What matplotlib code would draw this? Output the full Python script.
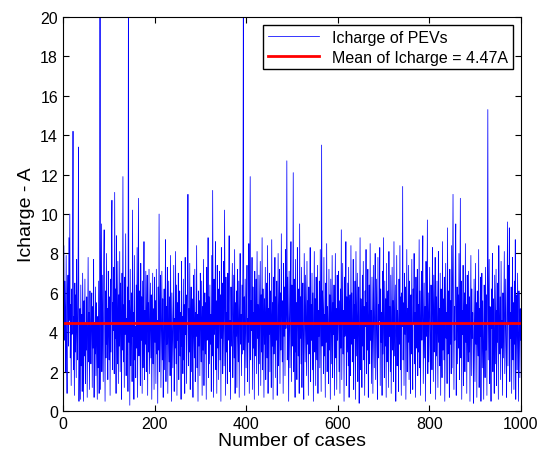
import numpy as np
import matplotlib
matplotlib.use('Agg')
import matplotlib.pyplot as plt

matplotlib.rcParams['font.family'] = ['Liberation Sans', 'DejaVu Sans']

# Icharge per case (cases 1..1000)
icharge_001_200 = [
    4.2, 8.4, 3.6, 6.6, 5.1, 2.0, 7.9, 3.4, 0.9, 5.7, 6.9, 3.3, 8.8, 4.6, 10.0, 2.7, 5.4, 1.3, 6.2, 3.9,
    7.4, 14.2, 2.1, 4.8, 0.8, 6.5, 3.0, 5.9, 1.7, 7.7, 4.1, 2.6, 6.8, 13.4, 0.5, 3.8, 5.2, 0.6, 6.4, 2.3,
    4.9, 1.0, 7.0, 3.5, 0.5, 5.6, 2.8, 6.7, 1.4, 4.4, 3.1, 5.8, 0.7, 4.0, 7.8, 2.5, 5.0, 1.1, 6.1, 3.7,
    2.4, 4.7, 6.0, 1.2, 5.3, 3.2, 7.7, 0.7, 4.5, 2.9, 6.3, 1.8, 5.5, 3.6, 0.6, 4.8, 2.2, 6.6, 0.9, 3.3,
    24.0, 1.1, 5.7, 9.5, 2.0, 6.9, 3.9, 1.5, 7.4, 9.2, 4.3, 0.5, 6.1, 2.7, 8.0, 3.4, 5.2, 1.6, 7.1, 4.0,
    2.6, 5.8, 0.8, 6.7, 3.0, 8.4, 10.7, 2.1, 5.5, 4.1, 7.3, 1.9, 11.1, 3.7, 6.2, 0.9, 8.9, 4.6, 2.4, 7.6,
    1.4, 5.9, 3.3, 8.1, 2.0, 6.5, 4.4, 0.6, 7.0, 3.1, 11.9, 2.5, 5.4, 1.2, 6.8, 3.9, 9.0, 1.8, 4.7, 2.9,
    6.3, 1.0, 22.0, 3.5, 5.6, 0.3, 7.2, 2.3, 4.9, 6.0, 1.5, 10.2, 3.8, 5.0, 0.6, 7.9, 2.6, 4.3, 1.7, 6.4,
    3.2, 8.3, 0.7, 5.3, 10.8, 2.8, 6.1, 4.0, 1.3, 7.5, 3.6, 5.8, 0.9, 6.6, 2.2, 4.5, 8.6, 1.6, 5.1, 3.4,
    7.1, 2.0, 4.8, 6.9, 0.8, 5.5, 3.0, 7.2, 1.9, 4.2, 6.5, 2.7, 5.9, 0.6, 3.8, 7.0, 2.4, 5.2, 1.1, 6.8,
]
icharge_201_400 = [
    3.5, 5.6, 1.4, 7.2, 2.9, 4.6, 0.4, 6.3, 3.1, 10.0, 2.0, 5.0, 6.9, 1.2, 4.4, 7.1, 2.6, 5.7, 0.7, 3.9,
    6.2, 2.1, 4.9, 8.7, 1.5, 5.3, 3.4, 7.3, 0.9, 4.1, 6.6, 2.5, 5.8, 1.8, 7.9, 3.7, 0.5, 6.0, 4.3, 2.2,
    5.1, 7.4, 1.0, 4.7, 3.2, 8.1, 2.4, 6.4, 0.8, 5.5, 3.6, 7.0, 1.6, 4.5, 6.1, 2.8, 5.0, 0.6, 7.6, 3.3,
    4.8, 1.9, 6.7, 2.6, 5.4, 0.9, 7.8, 3.9, 5.9, 1.4, 4.2, 6.5, 11.0, 2.3, 5.2, 3.0, 7.5, 1.1, 4.6, 6.3,
    2.0, 5.7, 3.5, 0.7, 6.9, 4.0, 2.7, 7.2, 1.5, 5.0, 3.8, 8.4, 2.2, 4.9, 0.5, 6.1, 3.3, 5.6, 1.8, 7.0,
    4.4, 2.5, 6.6, 0.8, 5.3, 3.1, 7.7, 1.3, 4.7, 6.0, 2.9, 5.5, 0.6, 7.3, 3.6, 4.1, 8.8, 1.7, 5.8, 2.4,
    6.4, 3.4, 4.9, 1.0, 7.9, 2.8, 11.2, 5.1, 0.7, 6.7, 3.9, 4.5, 8.6, 2.1, 5.6, 0.9, 7.4, 3.2, 6.2, 1.6,
    4.8, 7.1, 2.6, 5.9, 0.5, 8.3, 3.7, 6.5, 1.9, 4.3, 7.6, 2.3, 10.2, 5.4, 0.8, 6.8, 3.0, 5.0, 1.4, 7.0,
    3.6, 5.7, 8.9, 2.0, 4.6, 0.6, 6.3, 3.3, 5.2, 7.5, 1.7, 4.0, 6.9, 2.7, 8.2, 0.9, 5.5, 3.8, 6.1, 1.2,
    7.2, 4.2, 2.5, 6.6, 0.7, 5.1, 8.0, 3.4, 4.9, 1.8, 6.4, 2.9, 7.7, 21.0, 3.1, 5.8, 0.8, 6.7, 4.4, 2.2,
]
icharge_401_600 = [
    5.3, 7.4, 1.5, 4.7, 3.5, 8.5, 0.9, 6.0, 11.9, 2.6, 5.6, 4.1, 7.8, 1.1, 6.3, 3.2, 5.0, 0.6, 7.1, 2.8,
    4.5, 6.7, 1.9, 8.1, 3.7, 5.4, 0.8, 6.9, 2.4, 4.8, 7.6, 1.3, 5.9, 3.0, 8.8, 2.1, 6.2, 4.3, 0.7, 5.7,
    3.4, 7.3, 1.6, 4.9, 6.5, 2.7, 8.4, 0.9, 5.2, 3.9, 7.0, 2.0, 6.1, 4.6, 1.2, 8.7, 3.3, 5.5, 0.6, 6.8,
    2.9, 4.4, 7.8, 1.7, 5.8, 3.6, 6.6, 0.8, 4.0, 8.0, 2.3, 5.1, 7.2, 1.4, 6.0, 3.1, 9.0, 4.7, 2.5, 5.6,
    0.9, 7.5, 3.8, 6.3, 1.8, 8.2, 4.2, 5.3, 12.7, 2.6, 6.8, 3.5, 0.5, 7.1, 4.9, 2.2, 5.9, 8.6, 1.5, 6.4,
    3.3, 5.0, 12.1, 2.0, 6.7, 4.1, 0.7, 7.7, 3.0, 5.5, 1.6, 8.3, 4.5, 2.8, 6.2, 0.9, 9.5, 3.7, 5.8, 2.4,
    7.3, 1.2, 4.8, 6.5, 3.1, 0.6, 8.0, 5.2, 2.5, 6.9, 4.0, 1.8, 7.6, 3.4, 5.6, 0.8, 6.3, 2.9, 4.6, 8.3,
    1.5, 5.4, 3.6, 7.0, 2.1, 6.0, 0.5, 4.4, 8.1, 3.0, 5.7, 1.3, 6.8, 4.2, 2.6, 7.4, 0.9, 5.1, 3.8, 6.6,
    2.2, 8.2, 4.7, 1.0, 13.5, 3.3, 6.1, 5.0, 1.9, 7.8, 2.8, 4.9, 0.7, 6.5, 3.5, 8.5, 2.0, 5.3, 4.1, 1.4,
    7.2, 3.1, 5.9, 0.6, 6.7, 4.5, 2.4, 7.9, 1.7, 5.5, 3.9, 6.4, 0.8, 4.3, 8.0, 2.7, 5.2, 1.1, 6.9, 3.6,
]
icharge_601_800 = [
    4.8, 7.1, 2.0, 5.6, 0.9, 6.2, 3.2, 9.2, 1.6, 4.6, 7.5, 2.9, 5.1, 0.5, 6.8, 3.8, 4.4, 8.6, 1.3, 5.8,
    3.0, 6.5, 2.3, 7.3, 0.7, 4.9, 5.9, 1.8, 8.4, 3.4, 6.0, 2.5, 4.2, 7.7, 1.1, 5.4, 3.7, 6.6, 0.6, 8.1,
    2.8, 5.0, 7.0, 1.5, 4.7, 6.3, 0.4, 3.9, 8.8, 2.1, 5.7, 4.0, 1.2, 6.9, 3.3, 7.6, 2.6, 5.3, 0.8, 6.1,
    4.3, 8.2, 1.9, 5.5, 3.1, 7.2, 0.7, 4.8, 6.4, 2.4, 8.5, 3.6, 5.1, 1.4, 6.8, 3.9, 0.9, 7.4, 4.5, 2.2,
    5.9, 8.0, 1.6, 4.1, 6.7, 3.0, 0.6, 7.8, 2.7, 5.4, 4.6, 8.3, 1.3, 6.2, 3.5, 5.0, 0.8, 7.1, 2.9, 8.8,
    4.0, 1.7, 6.6, 3.3, 5.7, 0.7, 7.5, 2.5, 4.9, 6.1, 1.2, 8.1, 3.8, 5.3, 2.0, 6.9, 0.9, 4.4, 7.3, 3.1,
    5.6, 1.5, 8.6, 2.8, 4.7, 6.4, 0.5, 3.6, 7.9, 2.3, 5.1, 4.2, 1.0, 6.7, 3.4, 8.4, 2.1, 5.8, 0.8, 6.0,
    4.3, 11.4, 2.6, 5.5, 1.3, 7.0, 3.9, 6.3, 0.6, 4.8, 8.2, 2.0, 5.2, 3.5, 7.4, 1.6, 6.6, 4.1, 0.9, 5.9,
    2.9, 7.7, 3.7, 1.1, 6.2, 4.5, 8.0, 2.4, 5.0, 0.7, 6.8, 3.2, 4.6, 7.2, 1.8, 5.4, 3.0, 8.7, 2.2, 6.1,
    0.8, 4.9, 7.1, 3.6, 5.6, 8.9, 1.4, 4.2, 6.5, 2.7, 5.3, 0.5, 7.6, 3.8, 4.4, 9.7, 1.9, 6.0, 2.5, 5.1,
]
icharge_801_1000 = [
    7.3, 3.3, 0.9, 6.4, 4.7, 2.1, 8.3, 5.5, 1.5, 6.9, 3.0, 4.3, 7.8, 0.6, 5.8, 2.8, 6.6, 4.0, 1.2, 8.1,
    3.5, 5.2, 2.3, 7.0, 0.8, 6.2, 4.6, 1.7, 8.6, 3.1, 5.7, 2.6, 6.8, 0.5, 4.2, 7.5, 3.7, 5.0, 1.4, 9.3,
    2.9, 6.1, 4.4, 0.7, 7.2, 3.4, 5.6, 1.9, 8.4, 2.2, 6.5, 11.0, 4.8, 1.1, 5.3, 3.6, 7.7, 9.5, 0.8, 4.5,
    6.3, 2.4, 5.9, 3.2, 8.0, 1.6, 4.9, 10.8, 2.7, 6.6, 0.6, 5.1, 3.9, 7.4, 1.3, 4.7, 6.0, 2.0, 8.5, 3.5,
    5.4, 0.9, 6.9, 4.1, 2.5, 7.1, 3.0, 5.8, 0.5, 4.6, 7.9, 1.8, 6.2, 3.7, 5.0, 2.3, 0.4, 6.7, 4.3, 1.5,
    7.5, 3.4, 5.5, 0.7, 6.1, 4.0, 2.8, 8.2, 1.2, 5.2, 3.8, 6.8, 0.5, 4.7, 7.0, 2.2, 5.6, 3.3, 0.6, 6.4,
    4.5, 1.7, 7.3, 3.1, 5.9, 0.8, 6.6, 15.3, 2.6, 4.9, 7.7, 1.4, 5.3, 3.6, 0.5, 6.2, 4.2, 8.0, 2.0, 5.7,
    3.9, 0.9, 6.9, 4.4, 2.4, 7.2, 1.3, 5.1, 3.5, 6.5, 0.6, 8.4, 4.8, 2.9, 5.8, 1.6, 7.6, 3.2, 4.6, 0.8,
    6.0, 2.7, 5.4, 8.1, 1.9, 4.1, 6.7, 3.0, 0.7, 5.6, 9.6, 2.3, 7.4, 4.5, 9.3, 1.5, 5.0, 3.7, 6.3, 0.9,
    4.9, 7.8, 2.6, 5.5, 1.1, 6.6, 3.4, 8.7, 0.6, 4.3, 5.9, 2.1, 7.0, 3.8, 0.5, 6.1, 4.6, 1.7, 5.2, 3.6,
]
mean_icharge = 4.47

icharge = np.array(icharge_001_200 + icharge_201_400 + icharge_401_600
                   + icharge_601_800 + icharge_801_1000)
cases = np.arange(1, len(icharge) + 1)

fig = plt.figure(figsize=(5.38, 4.60), dpi=100)
ax = fig.add_axes([0.117, 0.104, 0.851, 0.857])

ax.plot(cases, icharge, color='#0000ff', lw=0.55, label='Icharge of PEVs')
ax.plot([cases[0], cases[-1]], [mean_icharge, mean_icharge], color='#ff0000', lw=2,
        label='Mean of Icharge = %.2fA' % mean_icharge)

ax.set_xlim(0, 1000)
ax.set_ylim(0, 20)
ax.set_xticks(np.arange(0, 1001, 200))
ax.set_yticks(np.arange(0, 21, 2))
ax.tick_params(direction='in', top=True, right=True, labelsize=11.5, length=4)
ax.set_xlabel('Number of cases', fontsize=14, labelpad=1)
ax.set_ylabel('Icharge - A', fontsize=14, labelpad=4)

leg = ax.legend(loc='upper right', fontsize=11.5, fancybox=False, framealpha=1,
                edgecolor='black', borderaxespad=0.5, handlelength=3.2,
                borderpad=0.3, labelspacing=0.3)
leg.get_frame().set_linewidth(1.0)

plt.savefig('out.png', dpi=100)
